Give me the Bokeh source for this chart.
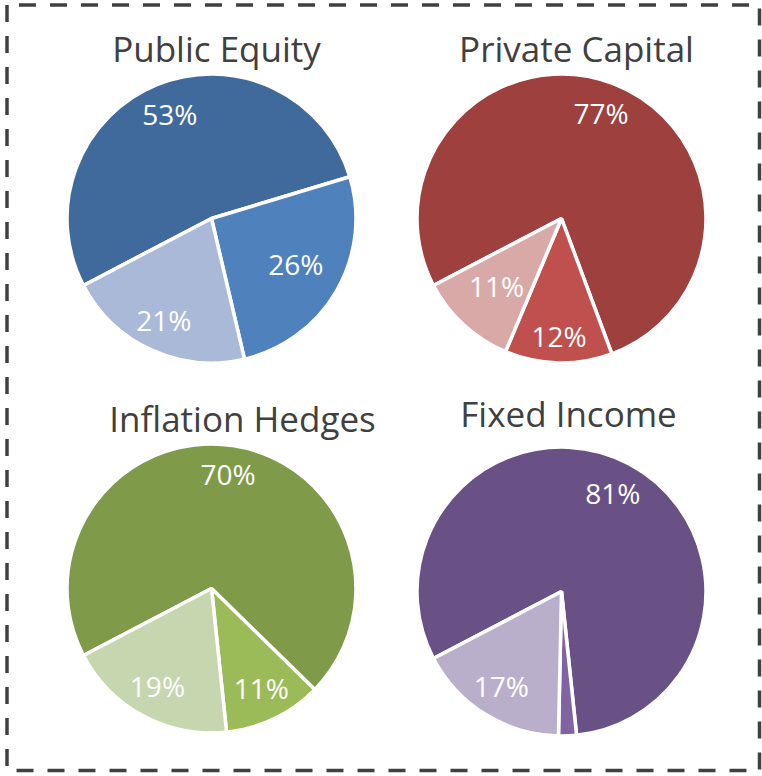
from bokeh.plotting import figure
from bokeh.models import Range1d, ColumnDataSource
from bokeh.core.properties import value
from bokeh.embed import file_html
from bokeh.resources import INLINE
import math

# ---- data ----
titles = ["Public Equity", "Private Capital", "Inflation Hedges", "Fixed Income"]
public_equity = [53, 26, 21]
private_capital = [77, 12, 11]
inflation_hedges = [70, 11, 19]
fixed_income = [81, 2, 17]
series = [public_equity, private_capital, inflation_hedges, fixed_income]

# ---- style ----
palettes = [
    ["#416A9C", "#4F81BD", "#AAB9D7"],
    ["#9E403E", "#C0504D", "#D9A9A8"],
    ["#7F9B4A", "#9BBB59", "#C6D6AE"],
    ["#695186", "#8064A2", "#BAAFCA"],
]
W, H = 762, 776
centers = [(211, 218), (561, 218), (211, 588), (561, 591)]      # screen px
title_pos = [(216, 61), (576, 61), (242, 431), (568, 426)]        # screen px, baseline
label_r = [[0.77, 0.68, 0.80], [0.77, 0.84, 0.67], [0.79, 0.80, 0.80], [0.76, 0.80, 0.80]]
R = 144.5
START = 207.6  # degrees, slices run clockwise from here
FONT = "Open Sans"
TXT_SHIFT = 13  # renderer baseline correction (px, upward)

p = figure(width=W, height=H, output_backend="svg", toolbar_location=None,
           x_range=Range1d(0, W), y_range=Range1d(0, H),
           min_border=0, outline_line_color=None,
           styles={"position": "absolute", "left": "0px", "top": "0px"})
p.axis.visible = False
p.grid.visible = False
p.background_fill_color = "white"
p.border_fill_color = "white"

for k, vals in enumerate(series):
    cx, cy = centers[k]
    cyd = H - cy
    total = float(sum(vals))
    starts, ends, cols = [], [], []
    lx, ly, lt = [], [], []
    cum = 0.0
    for i, v in enumerate(vals):
        hi = START - cum / total * 360.0
        lo = hi - v / total * 360.0
        cum += v
        starts.append(math.radians(lo))
        ends.append(math.radians(hi))
        cols.append(palettes[k][i])
        if v >= 5:
            mid = math.radians((hi + lo) / 2.0)
            rr = label_r[k][i] * 143
            lx.append(cx + rr * math.cos(mid))
            ly.append(cyd + rr * math.sin(mid) - 10 + TXT_SHIFT)
            lt.append(f"{v}%")
    src = ColumnDataSource(dict(x=[cx] * len(vals), y=[cyd] * len(vals),
                                s=starts, e=ends, c=cols))
    p.wedge(x="x", y="y", radius=R, start_angle="s", end_angle="e",
            direction="anticlock", fill_color="c", line_color="white",
            line_width=3.5, source=src)
    p.text(x=lx, y=ly, text=lt, text_color="white", text_font=value(FONT),
           text_font_size=value("28px"), text_align="center",
           text_baseline="alphabetic")
    tx, ty = title_pos[k]
    p.text(x=[tx], y=[H - ty + TXT_SHIFT], text=[titles[k]], text_color="#404040",
           text_font=value(FONT), text_font_size=value("35px"),
           text_align="center", text_baseline="alphabetic")

# dashed frame
bx = [6.5, 6.5, 759, 759, 6.5]
by = [H - 4.5, H - 770, H - 770, H - 4.5, H - 4.5]
p.line(bx, by, line_color="#404040", line_width=3.5, line_dash="17 14")

open("out.html", "w").write(file_html(p, INLINE))
